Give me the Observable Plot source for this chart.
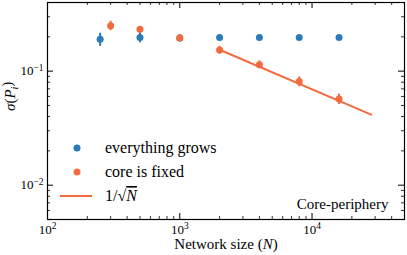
<!DOCTYPE html>
<html><head><meta charset="utf-8">
<script src="https://cdn.jsdelivr.net/npm/d3@7"></script>
<script src="https://cdn.jsdelivr.net/npm/@observablehq/plot@0.6"></script>
<style>
body{margin:0;background:#fff;}
#wrap{width:407px;height:255px;}
</style></head><body><div id="wrap"></div>
<script>
// Data
const nGrow = [250, 500, 1000, 2000, 4000, 8000, 16000];
const sigmaGrow = [0.19, 0.197, 0.195, 0.197, 0.197, 0.197, 0.197];
const errGrow = [0.025, 0.02, 0.01, 0.003, 0.002, 0.002, 0.002];

const nFixed = [300, 500, 1000, 2000, 4000, 8000, 16000];
const sigmaFixed = [0.25, 0.233, 0.195, 0.153, 0.114, 0.081, 0.057];
const errFixed = [0.024, 0.01, 0.015, 0.012, 0.009, 0.008, 0.006];

const fitN = [2000, 28000];
const fitSigma = [0.154, 0.0415];

const xMajor = [100, 1000, 10000];
const yMajor = [0.01, 0.1];
const legendLabels = ["everything grows", "core is fixed", "1/√N"];
const annotation = "Core-periphery";
const xLabel = "Network size (N)";
const yLabel = "σ(P_i)";

const xMinor = [];
for (const d of [100, 1000, 10000]) for (let k = 2; k <= 9; k++) if (d * k <= 50000) xMinor.push(d * k);
const yMinor = [];
for (const d of [0.001, 0.01, 0.1]) for (let k = 2; k <= 9; k++) { const v = +(d * k).toPrecision(3); if (v >= 0.005 && v <= 0.4) yMinor.push(v); }

const blue = "#2b7bba", orange = "#f26b3f";
const W = 407, H = 255, ML = 47, MR = 3, MT = 2, MB = 36;
const innerW = W - ML - MR, innerH = H - MT - MB;

const growRows = nGrow.map((n, i) => ({n, s: sigmaGrow[i], e: errGrow[i]}));
const fixedRows = nFixed.map((n, i) => ({n, s: sigmaFixed[i], e: errFixed[i]}));
const fitRows = fitN.map((n, i) => ({n, s: fitSigma[i]}));

const supFmt = d => "10^" + Math.round(Math.log10(d));

const chart = Plot.plot({
  width: W, height: H, marginLeft: ML, marginRight: MR, marginTop: MT, marginBottom: MB,
  style: {fontFamily: "'Liberation Serif', serif", fontSize: "13px", background: "white", color: "black"},
  x: {type: "log", domain: [100, 50000]},
  y: {type: "log", domain: [0.005, 0.4]},
  marks: [
    Plot.ruleX(growRows, {x: "n", y1: d => d.s - d.e, y2: d => d.s + d.e, stroke: blue, strokeWidth: 2}),
    Plot.dot(growRows, {x: "n", y: "s", r: 3.5, fill: blue}),
    Plot.line(fitRows, {x: "n", y: "s", stroke: orange, strokeWidth: 2}),
    Plot.ruleX(fixedRows, {x: "n", y1: d => d.s - d.e, y2: d => d.s + d.e, stroke: orange, strokeWidth: 2}),
    Plot.dot(fixedRows, {x: "n", y: "s", r: 3.5, fill: orange}),
    // inward ticks
    Plot.tickX(xMajor, {x: d => d, insetTop: innerH - 6, stroke: "black", strokeWidth: 1}),
    Plot.tickX(xMajor, {x: d => d, insetBottom: innerH - 6, stroke: "black", strokeWidth: 1}),
    Plot.tickX(xMinor, {x: d => d, insetTop: innerH - 3, stroke: "black", strokeWidth: 0.8}),
    Plot.tickX(xMinor, {x: d => d, insetBottom: innerH - 3, stroke: "black", strokeWidth: 0.8}),
    Plot.tickY(yMajor, {y: d => d, insetRight: innerW - 6, stroke: "black", strokeWidth: 1}),
    Plot.tickY(yMajor, {y: d => d, insetLeft: innerW - 6, stroke: "black", strokeWidth: 1}),
    Plot.tickY(yMinor, {y: d => d, insetRight: innerW - 3, stroke: "black", strokeWidth: 0.8}),
    Plot.tickY(yMinor, {y: d => d, insetLeft: innerW - 3, stroke: "black", strokeWidth: 0.8}),
    Plot.frame({stroke: "black", strokeWidth: 1.2}),
    Plot.axisX(xMajor, {anchor: "bottom", tickSize: 0, tickPadding: 5, tickFormat: supFmt, label: null, fontSize: 13}),
    Plot.axisY(yMajor, {anchor: "left", tickSize: 0, tickPadding: 4, tickFormat: supFmt, label: null, fontSize: 13}),
    Plot.text([xLabel], {frameAnchor: "bottom", dy: 25, lineAnchor: "middle", fontSize: 15, text: d => d}),
    Plot.text([yLabel], {frameAnchor: "left", dx: -37, rotate: -90, lineAnchor: "middle", fontSize: 15, text: d => d}),
    Plot.text([annotation], {frameAnchor: "bottom-right", dx: -16, dy: -15.5, textAnchor: "end", lineAnchor: "middle", fontSize: 15, text: d => d})
  ]
});
document.getElementById("wrap").appendChild(chart);

const svg = d3.select(chart);
// superscripts for tick labels
svg.selectAll("text").each(function () {
  const t = this.textContent;
  const m = /^10\^(-?\d+)$/.exec(t);
  if (m) {
    const el = d3.select(this);
    el.text("");
    el.append("tspan").text("10");
    el.append("tspan").attr("dy", "-0.45em").attr("font-size", "9.5px").text(m[1].replace("-", "−"));
  } else if (t === xLabel) {
    const el = d3.select(this);
    el.text("");
    el.append("tspan").text("Network size (");
    el.append("tspan").attr("font-style", "italic").text("N");
    el.append("tspan").text(")");
  } else if (t === yLabel) {
    const el = d3.select(this);
    el.text("");
    el.append("tspan").attr("font-style", "italic").text("σ");
    el.append("tspan").text("(");
    el.append("tspan").attr("font-style", "italic").text("P");
    el.append("tspan").attr("font-style", "italic").attr("font-size", "10px").attr("dy", "0.3em").text("i");
    el.append("tspan").attr("dy", "-0.45em").text(")");
  }
});

// legend
const leg = svg.append("g").attr("font-family", "'Liberation Serif', serif").attr("font-size", 16).attr("fill", "black").attr("text-anchor", "start");
leg.append("circle").attr("cx", 77).attr("cy", 148).attr("r", 3.5).attr("fill", blue);
leg.append("text").attr("x", 105).attr("y", 152.5).text(legendLabels[0]);
leg.append("circle").attr("cx", 77).attr("cy", 172).attr("r", 3.5).attr("fill", orange);
leg.append("text").attr("x", 105).attr("y", 176.5).text(legendLabels[1]);
leg.append("line").attr("x1", 60).attr("x2", 92).attr("y1", 196).attr("y2", 196).attr("stroke", orange).attr("stroke-width", 2);
const t3 = leg.append("text").attr("x", 105).attr("y", 201);
t3.append("tspan").text("1/√");
t3.append("tspan").attr("font-style", "italic").attr("text-decoration", "overline").text("N");
</script>
</body></html>
